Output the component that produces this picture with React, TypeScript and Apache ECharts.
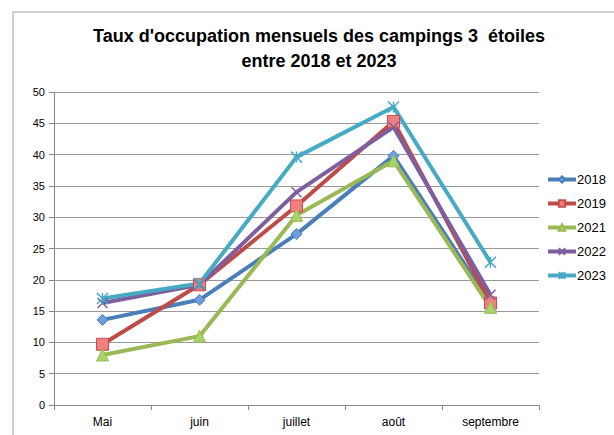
import React, { useEffect, useRef } from "react";
import * as echarts from "echarts";

const months = ["Mai", "juin", "juillet", "août", "septembre"];
const years = ["2018", "2019", "2021", "2022", "2023"];
const v2018 = [13.6, 16.8, 27.3, 39.8, 16.2];
const v2019 = [9.7, 19.2, 31.8, 45.3, 16.3];
const v2021 = [8.0, 11.0, 30.3, 39.0, 15.6];
const v2022 = [16.3, 19.2, 34.0, 44.4, 17.6];
const v2023 = [17.0, 19.4, 39.6, 47.6, 22.8];

const FONT = "'Liberation Sans', sans-serif";

export default function App() {
  const ref = useRef<HTMLDivElement>(null);
  useEffect(() => {
    document.body.style.margin = "0";
    const chart = echarts.init(ref.current!, null, { renderer: "svg" });
    const xSym = "path://M0,0L10,10M10,0L0,10";
    const starSym = "path://M0,0L10,10M10,0L0,10M5,0L5,10";
    const defs = [
      { name: years[0], data: v2018, color: "#4a7ebb", fill: "#6d9de0", border: "#4a7ebb", symbol: "diamond", size: 11, bw: 1 },
      { name: years[1], data: v2019, color: "#be4b48", fill: "#f27f7f", border: "#c0504d", symbol: "rect", size: 12, bw: 1 },
      { name: years[2], data: v2021, color: "#98b954", fill: "#a9d46a", border: "#98b954", symbol: "triangle", size: 12, bw: 1 },
      { name: years[3], data: v2022, color: "#7d5fa0", fill: "none", border: "#7d5fa0", symbol: xSym, size: 10, bw: 1.5 },
      { name: years[4], data: v2023, color: "#46aac5", fill: "none", border: "#46aac5", symbol: starSym, size: 11, bw: 1.5 },
    ];
    chart.setOption({
      animation: false,
      backgroundColor: "#ffffff",
      graphic: [
        {
          type: "rect",
          shape: { x: 13, y: 12, width: 700, height: 500 },
          style: { fill: "none", stroke: "#9a9a9a", lineWidth: 1 },
          silent: true,
        },
      ],
      title: {
        text: "Taux d'occupation mensuels des campings 3  étoiles\nentre 2018 et 2023",
        left: 314,
        textAlign: "center",
        top: 18,
        textStyle: {
          fontFamily: FONT,
          fontWeight: "bold",
          fontSize: 18,
          lineHeight: 25,
          color: "#000",
        },
      },
      legend: {
        orient: "vertical",
        left: 541,
        top: 168,
        itemWidth: 28,
        itemHeight: 8,
        itemGap: 11,
        data: years,
        lineStyle: { width: 4 },
        textStyle: { fontFamily: FONT, fontSize: 13, color: "#000", padding: [0, 0, 0, -4] },
      },
      grid: { left: 54, right: 75, top: 92, bottom: 30 },
      xAxis: {
        type: "category",
        data: months,
        boundaryGap: true,
        axisLine: { lineStyle: { color: "#888", width: 1 } },
        axisTick: { show: true, length: 5, lineStyle: { color: "#888" } },
        axisLabel: { fontFamily: FONT, fontSize: 12, color: "#000", margin: 11 },
      },
      yAxis: {
        type: "value",
        min: 0,
        max: 50,
        interval: 5,
        axisLine: { show: true, lineStyle: { color: "#888", width: 1 } },
        axisTick: { show: true, length: 5, lineStyle: { color: "#888" } },
        axisLabel: { fontFamily: FONT, fontSize: 11, color: "#000", margin: 9 },
        splitLine: { lineStyle: { color: "#999", width: 1 } },
      },
      series: defs.map((d) => ({
        name: d.name,
        type: "line",
        data: d.data,
        symbol: d.symbol,
        symbolSize: d.size,
        showAllSymbol: true,
        lineStyle: { color: d.color, width: 4 },
        itemStyle: { color: d.fill, borderColor: d.border, borderWidth: d.bw },
        emphasis: { disabled: true },
      })),
    });
    return () => chart.dispose();
  }, []);
  return <div ref={ref} style={{ width: 614, height: 435 }} />;
}
